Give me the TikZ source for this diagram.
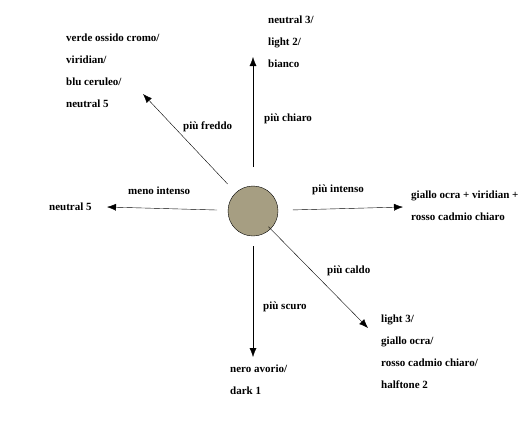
\documentclass[tikz,border=0pt]{standalone}
\usepackage{fontspec}
\setmainfont{Liberation Serif}
\usetikzlibrary{arrows.meta}
\definecolor{terra}{RGB}{166,158,130}
\tikzset{
  testo/.style={font=\fontsize{11}{22}\selectfont\bfseries, inner sep=0pt, align=left, anchor=west},
  freccia/.style={thin, -{Latex[length=9pt,width=7pt]}}
}
\begin{document}
\begin{tikzpicture}[x=1pt,y=-1pt]
\useasboundingbox (0,0) rectangle (526,434);
\node[circle, draw, fill=terra, minimum size=50pt, inner sep=0pt] (colore) at (253,211) {};
% punte delle frecce
\coordinate (chiaro) at (253,57);
\coordinate (freddo) at (143,94);
\coordinate (meno) at (107,207);
\coordinate (intenso) at (403,207);
\coordinate (scuro) at (253,357);
\coordinate (caldo) at (368,328);
\draw[freccia, shorten <=44pt] (colore.center) -- (chiaro);
\draw[freccia, shorten <=37pt] (colore.center) -- (freddo);
\draw[freccia, shorten <=36pt] (colore.center) -- (meno);
\draw[freccia, shorten <=40pt] (colore.center) -- (intenso);
\draw[freccia, shorten <=35pt] (colore.center) -- (scuro);
\draw[freccia, shorten <=22pt] (colore.center) -- (caldo);
% etichette
\node[testo] (lchiaro) at (264,119) {più chiaro};
\node[testo] (lfreddo) at (183,127) {più freddo};
\node[testo] (lmeno) at (128,191) {meno intenso};
\node[testo] (lintenso) at (312,190) {più intenso};
\node[testo] (lcaldo) at (327,271) {più caldo};
\node[testo] (lscuro) at (263,307) {più scuro};
% colori
\node[testo] (alto) at (268,42) {neutral 3/\\light 2/\\bianco};
\node[testo] (altosx) at (66,71) {verde ossido cromo/\\viridian/\\blu ceruleo/\\neutral 5};
\node[testo] (sx) at (49,207) {neutral 5};
\node[testo] (dx) at (411,205.5) {giallo ocra + viridian +\\rosso cadmio chiaro};
\node[testo] (basso) at (230,380) {nero avorio/\\dark 1};
\node[testo] (bassodx) at (381,351.5) {light 3/\\giallo ocra/\\rosso cadmio chiaro/\\halftone 2};
\end{tikzpicture}
\end{document}
